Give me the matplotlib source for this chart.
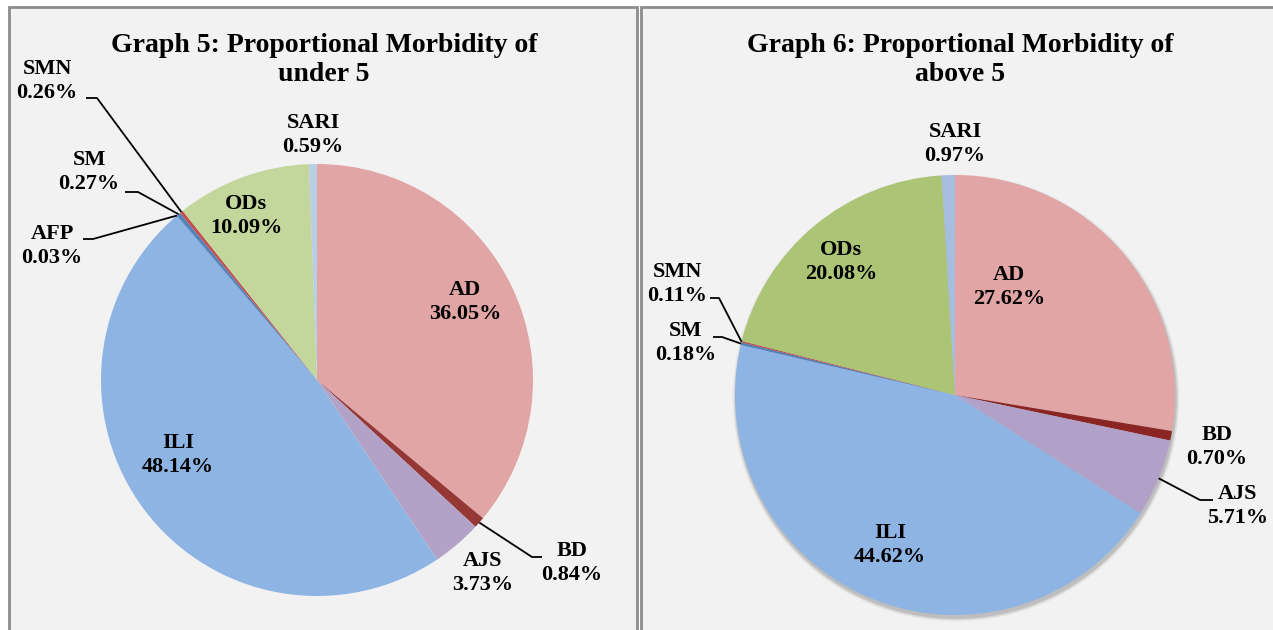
import numpy as np
import matplotlib.pyplot as plt
from matplotlib.patches import Rectangle, Circle

# data
labels_u5 = ['AD', 'BD', 'AJS', 'ILI', 'AFP', 'SM', 'SMN', 'ODs', 'SARI']
vals_u5 = [36.05, 0.84, 3.73, 48.14, 0.03, 0.27, 0.26, 10.09, 0.59]
labels_a5 = ['AD', 'BD', 'AJS', 'ILI', 'SM', 'SMN', 'ODs', 'SARI']
vals_a5 = [27.62, 0.70, 5.71, 44.62, 0.18, 0.11, 20.08, 0.97]

cols_u5 = ['#e0a5a4', '#953735', '#b2a2c7', '#8eb4e3', '#1f497d', '#4f81bd', '#c0504d', '#c3d69b', '#b9cde5']
cols_a5 = ['#e0a5a4', '#8b2523', '#b1a0c8', '#8eb4e3', '#4f81bd', '#c0504d', '#abc475', '#a7bde0']

W, H = 1273, 630
fig = plt.figure(figsize=(W / 100, H / 100), dpi=100)
fig.patch.set_facecolor('white')
ax = fig.add_axes([0, 0, 1, 1])
ax.set_xlim(0, W)
ax.set_ylim(0, H)
ax.set_aspect('equal')
ax.axis('off')

FONT = 'Liberation Serif'

# panels
for x0, x1 in [(9, 637), (641, 1280)]:
    ax.add_patch(Rectangle((x0, -10), x1 - x0, H - 7 + 10, facecolor='#f2f2f2',
                           edgecolor='#8c8c8c', lw=2, zorder=0))


def Y(y):
    return H - y


def mid_point(vals, i, cx, cy, r):
    cum = sum(vals[:i]) + vals[i] / 2
    a = np.deg2rad(90 - 360 * cum / sum(vals))
    return cx + r * np.cos(a), Y(cy) + r * np.sin(a)


def draw_pie(vals, cols, cx, cy, r, shadow=False):
    if shadow:
        for k, al in zip(range(6, 0, -1), [0.03, 0.04, 0.05, 0.06, 0.08, 0.1]):
            ax.add_patch(Circle((cx + 1, Y(cy) - 3), r + k * 0.6, facecolor='#555555',
                                edgecolor='none', alpha=al, zorder=1))
    ax.pie(vals, colors=cols, startangle=90, counterclock=False, center=(cx, Y(cy)),
           radius=r, wedgeprops=dict(edgecolor='none', zorder=2), frame=True)


def lab(name, val, x, y):
    ax.text(x, Y(y), f'{name}\n{val:.2f}%', ha='center', va='center', fontsize=16,
            fontweight='bold', family=FONT, linespacing=1.28, zorder=5)


def leader(pts):
    xs = [p[0] for p in pts]
    ys = [p[1] for p in pts]
    ax.plot(xs, ys, color='black', lw=1.3, zorder=4, solid_capstyle='butt')


# ---- left pie (under 5)
cxL, cyL, rL = 317, 380, 216
draw_pie(vals_u5, cols_u5, cxL, cyL, rL)
ax.text(324, Y(60), 'Graph 5: Proportional Morbidity of\nunder 5', ha='center', va='center',
        fontsize=20, fontweight='bold', family=FONT, linespacing=1.25)

lab('AD', vals_u5[0], 465, 302)
lab('ILI', vals_u5[3], 178, 455)
lab('ODs', vals_u5[7], 246, 216)
lab('SARI', vals_u5[8], 313, 135)
lab('AJS', vals_u5[2], 483, 573)
lab('BD', vals_u5[1], 572, 563)
lab('SMN', vals_u5[6], 47, 81)
lab('SM', vals_u5[5], 89, 172)
lab('AFP', vals_u5[4], 52, 246)

px, py = mid_point(vals_u5, 1, cxL, cyL, rL)
leader([(px, py), (532, Y(557)), (542, Y(557))])
px, py = mid_point(vals_u5, 6, cxL, cyL, rL)
leader([(px, py), (97, Y(98)), (86, Y(98))])
px, py = mid_point(vals_u5, 5, cxL, cyL, rL)
leader([(px, py), (138, Y(192)), (125, Y(192))])
px, py = mid_point(vals_u5, 4, cxL, cyL, rL)
leader([(px, py), (93, Y(239)), (83, Y(239))])

# ---- right pie (above 5)
cxR, cyR, rR = 955, 395, 220
draw_pie(vals_a5, cols_a5, cxR, cyR, rR, shadow=True)
ax.text(960, Y(60), 'Graph 6: Proportional Morbidity of\nabove 5', ha='center', va='center',
        fontsize=20, fontweight='bold', family=FONT, linespacing=1.25)

lab('AD', vals_a5[0], 1009, 287)
lab('ILI', vals_a5[3], 890, 545)
lab('ODs', vals_a5[6], 841, 262)
lab('SARI', vals_a5[7], 955, 144)
lab('BD', vals_a5[1], 1217, 447)
lab('AJS', vals_a5[2], 1238, 506)
lab('SMN', vals_a5[5], 677, 284)
lab('SM', vals_a5[4], 686, 343)

px, py = mid_point(vals_a5, 2, cxR, cyR, rR)
leader([(px, py), (1200, Y(500)), (1213, Y(500))])
px, py = mid_point(vals_a5, 5, cxR, cyR, rR)
leader([(px, py), (719, Y(298)), (710, Y(298))])
px, py = mid_point(vals_a5, 4, cxR, cyR, rR)
leader([(px, py), (722, Y(337)), (713, Y(337))])

ax.set_xlim(0, W)
ax.set_ylim(0, H)
ax.axis('off')
fig.savefig('out.png', dpi=100, facecolor='white')
